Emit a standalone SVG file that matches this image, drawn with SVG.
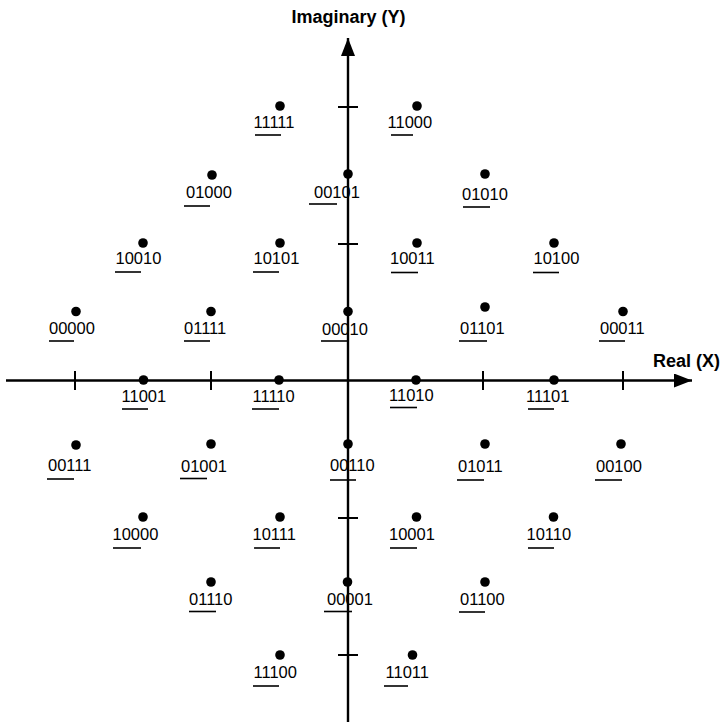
<svg xmlns="http://www.w3.org/2000/svg" width="723" height="722" viewBox="0 0 723 722">
<style>
.dot{fill:#000}
.lbl{font-family:"Liberation Sans",Arial,sans-serif;font-size:16.5px;fill:#000}
.ul{stroke:#000;stroke-width:1.6}
.axis{stroke:#000;stroke-width:2.4;fill:none}
.tick{stroke:#000;stroke-width:2}
.ttl{font-family:"Liberation Sans",Arial,sans-serif;font-size:18px;font-weight:bold;fill:#000}
</style>
<defs>
<marker id="arr" viewBox="0 0 18 14" refX="18" refY="7" markerWidth="18" markerHeight="14" markerUnits="userSpaceOnUse" orient="auto">
<path d="M0,0 L18,7 L0,14 Z" fill="#000"/>
</marker>
</defs>
<rect width="723" height="722" fill="#fff"/>
<g id="connectors">
<line class="axis" x1="6" y1="380.5" x2="692" y2="380.5" marker-end="url(#arr)"/>
<line class="axis" x1="348" y1="722" x2="348" y2="38" marker-end="url(#arr)"/>
<line class="tick" x1="75" y1="371" x2="75" y2="390"/>
<line class="tick" x1="211" y1="371" x2="211" y2="390"/>
<line class="tick" x1="483" y1="371" x2="483" y2="390"/>
<line class="tick" x1="623" y1="371" x2="623" y2="390"/>
<line class="tick" x1="338" y1="107" x2="358" y2="107"/>
<line class="tick" x1="338" y1="244" x2="358" y2="244"/>
<line class="tick" x1="338" y1="518" x2="358" y2="518"/>
<line class="tick" x1="338" y1="655" x2="358" y2="655"/>
</g>
<g id="axis-labels">
<text class="ttl" x="348.5" y="23" text-anchor="middle">Imaginary (Y)</text>
<text class="ttl" x="653" y="367">Real (X)</text>
</g>
<g id="p11111"><circle class="dot" cx="280" cy="106" r="4.8"/><text class="lbl" x="253.5" y="127.5">11111</text><line class="ul" x1="255" y1="135" x2="281" y2="135"/></g>
<g id="p11000"><circle class="dot" cx="417" cy="106" r="4.8"/><text class="lbl" x="387.5" y="127.5">11000</text><line class="ul" x1="391" y1="135" x2="413" y2="135"/></g>
<g id="p01000"><circle class="dot" cx="212" cy="175" r="4.8"/><text class="lbl" x="186" y="198">01000</text><line class="ul" x1="184" y1="206" x2="210" y2="206"/></g>
<g id="p00101"><circle class="dot" cx="348" cy="174" r="4.8"/><text class="lbl" x="314" y="197.5">00101</text><line class="ul" x1="309" y1="204" x2="337" y2="204"/></g>
<g id="p01010"><circle class="dot" cx="485" cy="174" r="4.8"/><text class="lbl" x="462" y="199.5">01010</text><line class="ul" x1="463" y1="207" x2="490" y2="207"/></g>
<g id="p10010"><circle class="dot" cx="143" cy="243" r="4.8"/><text class="lbl" x="115.5" y="264">10010</text><line class="ul" x1="115" y1="272" x2="141" y2="272"/></g>
<g id="p10101"><circle class="dot" cx="280" cy="243" r="4.8"/><text class="lbl" x="253.5" y="264">10101</text><line class="ul" x1="253" y1="272" x2="279" y2="272"/></g>
<g id="p10011"><circle class="dot" cx="417" cy="243" r="4.8"/><text class="lbl" x="390" y="264">10011</text><line class="ul" x1="391" y1="272.5" x2="418" y2="272.5"/></g>
<g id="p10100"><circle class="dot" cx="554" cy="243" r="4.8"/><text class="lbl" x="533.5" y="264">10100</text><line class="ul" x1="533" y1="272.5" x2="559" y2="272.5"/></g>
<g id="p00000"><circle class="dot" cx="76" cy="311.5" r="4.8"/><text class="lbl" x="49" y="333.5">00000</text><line class="ul" x1="49" y1="341" x2="74" y2="341"/></g>
<g id="p01111"><circle class="dot" cx="211" cy="311.5" r="4.8"/><text class="lbl" x="184" y="333.5">01111</text><line class="ul" x1="184" y1="341" x2="210" y2="341"/></g>
<g id="p00010"><circle class="dot" cx="348" cy="311.5" r="4.8"/><text class="lbl" x="322" y="335">00010</text><line class="ul" x1="321" y1="341" x2="347" y2="341"/></g>
<g id="p01101"><circle class="dot" cx="485" cy="307" r="4.8"/><text class="lbl" x="460" y="333.5">01101</text><line class="ul" x1="459" y1="341" x2="487" y2="341"/></g>
<g id="p00011"><circle class="dot" cx="623" cy="311.5" r="4.8"/><text class="lbl" x="600" y="333.5">00011</text><line class="ul" x1="599" y1="341" x2="625" y2="341"/></g>
<g id="p11001"><circle class="dot" cx="143.5" cy="380" r="4.8"/><text class="lbl" x="121.5" y="401.5">11001</text><line class="ul" x1="122" y1="409" x2="148" y2="409"/></g>
<g id="p11110"><circle class="dot" cx="279" cy="380" r="4.8"/><text class="lbl" x="252.5" y="401.5">11110</text><line class="ul" x1="252" y1="409" x2="279" y2="409"/></g>
<g id="p11010"><circle class="dot" cx="416" cy="380" r="4.8"/><text class="lbl" x="389" y="401">11010</text><line class="ul" x1="390" y1="407.5" x2="417" y2="407.5"/></g>
<g id="p11101"><circle class="dot" cx="554" cy="380" r="4.8"/><text class="lbl" x="526" y="401.5">11101</text><line class="ul" x1="528" y1="409" x2="554" y2="409"/></g>
<g id="p00111"><circle class="dot" cx="76" cy="445" r="4.8"/><text class="lbl" x="48" y="471">00111</text><line class="ul" x1="47" y1="479" x2="74" y2="479"/></g>
<g id="p01001"><circle class="dot" cx="211" cy="444" r="4.8"/><text class="lbl" x="181" y="471.5">01001</text><line class="ul" x1="180" y1="478.5" x2="207" y2="478.5"/></g>
<g id="p00110"><circle class="dot" cx="348" cy="444" r="4.8"/><text class="lbl" x="330" y="471">00110</text><line class="ul" x1="330" y1="480" x2="356" y2="480"/></g>
<g id="p01011"><circle class="dot" cx="485" cy="444" r="4.8"/><text class="lbl" x="458" y="471.5">01011</text><line class="ul" x1="457" y1="480" x2="484" y2="480"/></g>
<g id="p00100"><circle class="dot" cx="621" cy="444" r="4.8"/><text class="lbl" x="596" y="471.5">00100</text><line class="ul" x1="595" y1="480" x2="622" y2="480"/></g>
<g id="p10000"><circle class="dot" cx="143" cy="517" r="4.8"/><text class="lbl" x="112.5" y="540">10000</text><line class="ul" x1="113" y1="548" x2="141" y2="548"/></g>
<g id="p10111"><circle class="dot" cx="280" cy="517" r="4.8"/><text class="lbl" x="252.5" y="540">10111</text><line class="ul" x1="254" y1="548" x2="280" y2="548"/></g>
<g id="p10001"><circle class="dot" cx="416.5" cy="517" r="4.8"/><text class="lbl" x="389" y="540">10001</text><line class="ul" x1="390" y1="548" x2="417" y2="548"/></g>
<g id="p10110"><circle class="dot" cx="553.5" cy="517" r="4.8"/><text class="lbl" x="526.5" y="540">10110</text><line class="ul" x1="528" y1="548" x2="554" y2="548"/></g>
<g id="p01110"><circle class="dot" cx="211" cy="582" r="4.8"/><text class="lbl" x="189" y="605">01110</text><line class="ul" x1="189" y1="611.5" x2="216" y2="611.5"/></g>
<g id="p00001"><circle class="dot" cx="347.5" cy="582" r="4.8"/><text class="lbl" x="327" y="605">00001</text><line class="ul" x1="324" y1="611.5" x2="352" y2="611.5"/></g>
<g id="p01100"><circle class="dot" cx="485" cy="582" r="4.8"/><text class="lbl" x="460" y="605">01100</text><line class="ul" x1="459" y1="612" x2="485" y2="612"/></g>
<g id="p11100"><circle class="dot" cx="280" cy="655" r="4.8"/><text class="lbl" x="253.5" y="678">11100</text><line class="ul" x1="253" y1="686" x2="279" y2="686"/></g>
<g id="p11011"><circle class="dot" cx="412.5" cy="655" r="4.8"/><text class="lbl" x="385.5" y="678">11011</text><line class="ul" x1="384" y1="686" x2="408" y2="686"/></g>
</svg>
